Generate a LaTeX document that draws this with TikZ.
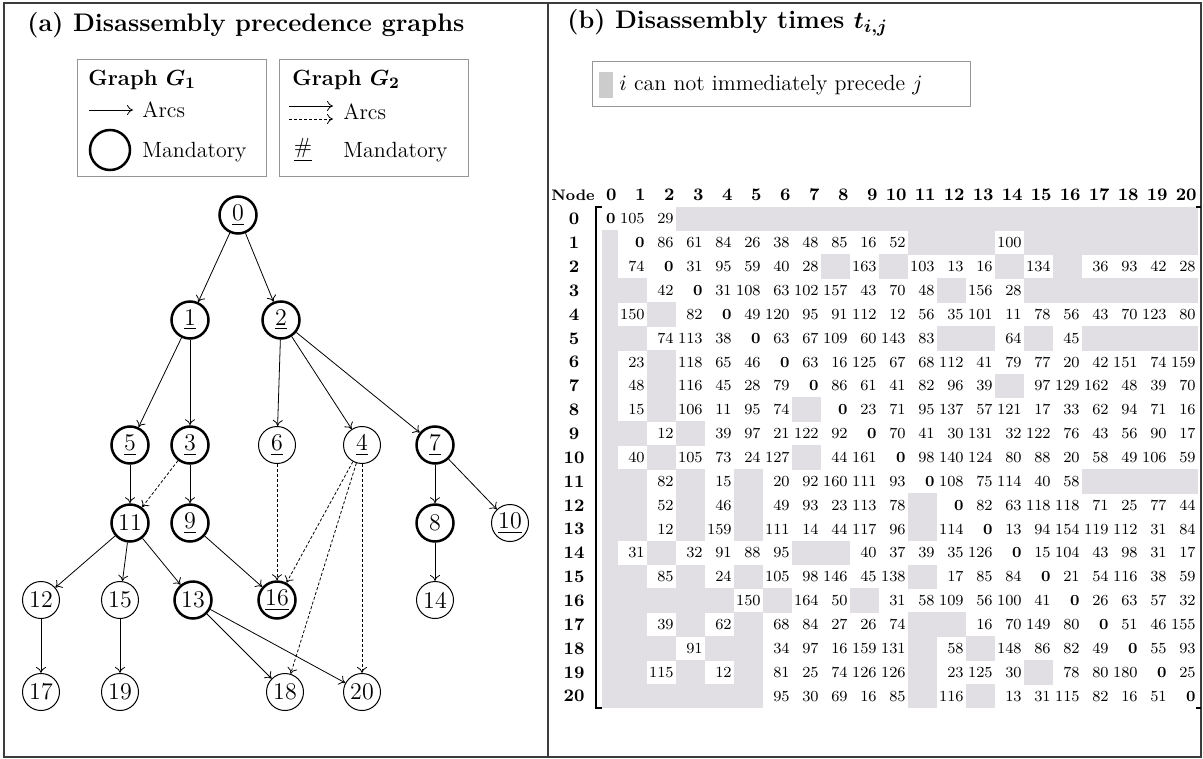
\documentclass[tikz,border=0pt]{standalone}
\usepackage{amsmath}
\usetikzlibrary{arrows.meta}
\definecolor{cellg}{RGB}{225,223,228}
\definecolor{legsq}{RGB}{204,204,204}
\definecolor{framec}{RGB}{60,60,60}
\definecolor{boxc}{RGB}{150,150,150}
\begin{document}
\begin{tikzpicture}[x=0.5pt,y=-0.5pt,
  mand/.style={circle,draw,line width=1.25pt,minimum size=18.5pt,inner sep=0pt,font=\fontsize{12}{14}\selectfont},
  opt/.style={circle,draw,line width=0.5pt,minimum size=18.5pt,inner sep=0pt,font=\fontsize{12}{14}\selectfont},
  arc/.style={-{To[length=3pt,width=5pt]},line width=0.4pt},
  darc/.style={-{To[length=3pt,width=5pt]},line width=0.4pt,dash pattern=on 1.5pt off 1pt},
  num/.style={anchor=base east,inner sep=0pt,font=\fontsize{7.7}{9}\selectfont},
  numb/.style={anchor=base east,inner sep=0pt,font=\fontsize{7.7}{9}\selectfont\bfseries},
  hdr/.style={anchor=base east,inner sep=0pt,font=\fontsize{8.8}{10}\selectfont\bfseries},
  rowlab/.style={anchor=base,inner sep=0pt,font=\fontsize{8.8}{10}\selectfont\bfseries},
  legtxt/.style={anchor=west,inner sep=0pt,font=\fontsize{11}{13}\selectfont},
  legtxtb/.style={anchor=west,inner sep=0pt,font=\fontsize{11}{13}\selectfont\bfseries},
  ttl/.style={anchor=west,inner sep=0pt,font=\fontsize{12.7}{15}\selectfont\bfseries},
  framebox/.style={draw=framec,line width=1pt},
  legbox/.style={draw=boxc,line width=0.5pt}
]
\useasboundingbox (0,0) rectangle (1203,759);
% frames
\draw[framebox] (4,3) rectangle (1201,757);
\draw[framebox] (548,3) -- (548,757);

% ---------- (a) ----------
\node[ttl] (ta) at (27,25) {(a) Disassembly precedence graphs};
\draw[legbox] (77,60) rectangle (266,177);
\draw[legbox] (279,60) rectangle (468,177);
\node[legtxtb] (g1) at (88,80) {Graph {\boldmath$G_1$}};
\coordinate (la1) at (89,110); \coordinate (la2) at (133,110);
\draw[arc] (la1) -- (la2);
\node[legtxt] (arcs1) at (142,110) {Arcs};
\node[mand,minimum size=20pt] (lc) at (110,150) {};
\node[legtxt] (man1) at (142,152) {Mandatory};
\node[legtxtb] (g2) at (292,80) {Graph {\boldmath$G_2$}};
\coordinate (lb1) at (289,106); \coordinate (lb2) at (333,106);
\coordinate (lc1) at (289,119); \coordinate (lc2) at (333,119);
\draw[arc] (lb1) -- (lb2);
\draw[darc] (lc1) -- (lc2);
\node[legtxt] (arcs2) at (343,112) {Arcs};
\node[anchor=center,inner sep=0pt,font=\fontsize{11}{13}\selectfont] (hs) at (303,150) {$\underline{\#}$};
\node[legtxt] (man2) at (343,152) {Mandatory};

% graph nodes
\node[mand] (n0) at (238,215) {\underline{0}};
\node[mand] (n1) at (190,320) {\underline{1}};
\node[mand] (n2) at (281,320) {\underline{2}};
\node[mand] (n5) at (130,445) {\underline{5}};
\node[mand] (n3) at (190,445) {\underline{3}};
\node[opt]  (n6) at (277,445) {\underline{6}};
\node[opt]  (n4) at (362,445) {\underline{4}};
\node[mand] (n7) at (435,445) {\underline{7}};
\node[mand] (n11) at (130,523) {11};
\node[mand] (n9) at (190,523) {\underline{9}};
\node[mand] (n8) at (435,523) {8};
\node[opt]  (n10) at (510,523) {\underline{10}};
\node[opt]  (n12) at (41,600) {12};
\node[opt]  (n15) at (120,600) {15};
\node[mand] (n13) at (193,600) {13};
\node[mand] (n16) at (277,600) {\underline{16}};
\node[opt]  (n14) at (435,600) {14};
\node[opt]  (n17) at (41,692) {17};
\node[opt]  (n19) at (120,692) {19};
\node[opt]  (n18) at (285,692) {18};
\node[opt]  (n20) at (362,692) {20};
% arcs
\foreach \a/\b in {n0/n1,n0/n2,n1/n5,n1/n3,n2/n6,n2/n4,n2/n7,n5/n11,n3/n9,n7/n8,n7/n10,
  n11/n12,n11/n15,n11/n13,n9/n16,n8/n14,n12/n17,n15/n19,n13/n18,n13/n20}
  \draw[arc] (\a) -- (\b);
\foreach \a/\b in {n3/n11,n6/n16,n4/n16,n4/n18,n4/n20}
  \draw[darc] (\a) -- (\b);

% ---------- (b) ----------
\node[ttl] (tb) at (567,23) {(b) Disassembly times {\boldmath$t_{i,j}$}};
\draw[legbox] (592,62) rectangle (970,107);
\fill[legsq] (599,72) rectangle (613,98);
\node[legtxt] (lt) at (619,85) {$i$ can not immediately precede $j$};

% header
\node[anchor=base west,inner sep=0pt,font=\fontsize{7.6}{9}\selectfont\bfseries] (nodehdr) at (551,200) {Node};
\foreach \j in {0,...,20}{
  \pgfmathsetmacro\xr{ifthenelse(\j==0,618,618+29*\j)}
  \node[hdr] (h\j) at (\xr-1,200) {\j};
}
\def\gmark{g}
\foreach \r [count=\i from 0] in {
{0,105,29,g,g,g,g,g,g,g,g,g,g,g,g,g,g,g,g,g,g},
{g,0,86,61,84,26,38,48,85,16,52,g,g,g,100,g,g,g,g,g,g},
{g,74,0,31,95,59,40,28,g,163,g,103,13,16,g,134,g,36,93,42,28},
{g,g,42,0,31,108,63,102,157,43,70,48,g,156,28,g,g,g,g,g,g},
{g,150,g,82,0,49,120,95,91,112,12,56,35,101,11,78,56,43,70,123,80},
{g,g,74,113,38,0,63,67,109,60,143,83,g,g,64,g,45,g,g,g,g},
{g,23,g,118,65,46,0,63,16,125,67,68,112,41,79,77,20,42,151,74,159},
{g,48,g,116,45,28,79,0,86,61,41,82,96,39,g,97,129,162,48,39,70},
{g,15,g,106,11,95,74,g,0,23,71,95,137,57,121,17,33,62,94,71,16},
{g,g,12,g,39,97,21,122,92,0,70,41,30,131,32,122,76,43,56,90,17},
{g,40,g,105,73,24,127,g,44,161,0,98,140,124,80,88,20,58,49,106,59},
{g,g,82,g,15,g,20,92,160,111,93,0,108,75,114,40,58,g,g,g,g},
{g,g,52,g,46,g,49,93,23,113,78,g,0,82,63,118,118,71,25,77,44},
{g,g,12,g,159,g,111,14,44,117,96,g,114,0,13,94,154,119,112,31,84},
{g,31,g,32,91,88,95,g,g,40,37,39,35,126,0,15,104,43,98,31,17},
{g,g,85,g,24,g,105,98,146,45,138,g,17,85,84,0,21,54,116,38,59},
{g,g,g,g,g,150,g,164,50,g,31,58,109,56,100,41,0,26,63,57,32},
{g,g,39,g,62,g,68,84,27,26,74,g,g,16,70,149,80,0,51,46,155},
{g,g,g,91,g,g,34,97,16,159,131,g,58,g,148,86,82,49,0,55,93},
{g,g,115,g,12,g,81,25,74,126,126,g,23,125,30,g,78,80,180,0,25},
{g,g,g,g,g,g,95,30,69,16,85,g,116,g,13,31,115,82,16,51,0}}{
  \pgfmathsetmacro\yt{207+23.86*\i}
  \pgfmathsetmacro\yb{\yt+23.86}
  \pgfmathsetmacro\yc{\yt+11.93}
  \node[rowlab] (r\i) at (574,\yc+5.8) {\i};
  \foreach \v [count=\jj from 0] in \r {
    \pgfmathsetmacro\xl{ifthenelse(\jj==0,602,618+29*(\jj-1))}
    \pgfmathsetmacro\xr{ifthenelse(\jj==0,618,618+29*\jj)}
    \edef\cur{\v}
    \ifx\cur\gmark
      \fill[cellg] (\xl-0.4,\yt-0.4) rectangle (\xr+0.4,\yb+0.4);
    \else
      \ifnum\jj=\i
        \node[numb] (m\i-\jj) at (\xr-2,\yc+5) {\v};
      \else
        \node[num] (m\i-\jj) at (\xr-2,\yc+5) {\v};
      \fi
    \fi
  }
}
% brackets
\draw[line width=0.8pt] (602,207) -- (596,207) -- (596,708) -- (602,708);
\draw[line width=0.8pt] (1196,207) -- (1201,207);
\draw[line width=0.8pt] (1196,708) -- (1201,708);
\end{tikzpicture}
\end{document}
